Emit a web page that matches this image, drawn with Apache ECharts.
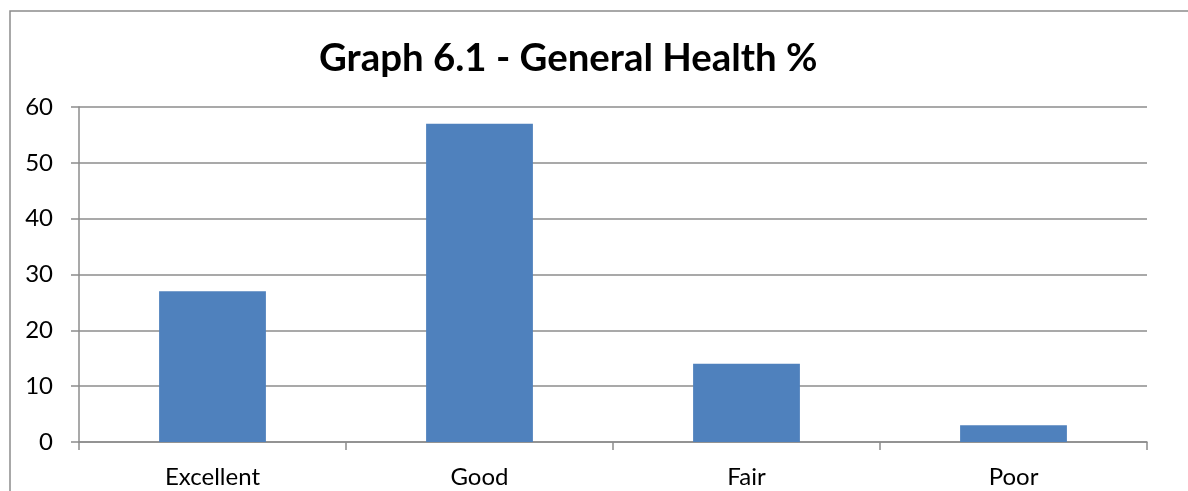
<!DOCTYPE html>
<html>
<head>
<meta charset="utf-8">
<script src="https://cdn.jsdelivr.net/npm/echarts@6/dist/echarts.min.js"></script>
<style>html,body{margin:0;padding:0;background:#fff;}#c{width:1188px;height:491px;}</style>
</head>
<body>
<div id="c"></div>
<script>
const titleText = 'Graph 6.1 - General Health %';
const categories = ['Excellent', 'Good', 'Fair', 'Poor'];
const values = [27, 57, 14, 3];
const yTicks = { min: 0, max: 60, interval: 10 };

const chart = echarts.init(document.getElementById('c'));
chart.setOption({
  animation: false,
  backgroundColor: '#fff',
  title: {
    text: titleText,
    left: 319,
    top: 40,
    padding: 0,
    textStyle: { fontFamily: 'Lato', fontWeight: 'bold', fontSize: 38.4, color: '#000' }
  },
  graphic: [{
    type: 'rect',
    shape: { x: 10, y: 11, width: 1400, height: 800 },
    style: { fill: 'none', stroke: '#8c8c8c', lineWidth: 1.5 },
    silent: true
  }],
  grid: { left: 79, right: 41, top: 107, bottom: 49 },
  xAxis: {
    type: 'category',
    data: categories,
    axisLine: { lineStyle: { color: '#8c8c8c', width: 1.5 } },
    axisTick: { show: true, length: 8, lineStyle: { color: '#8c8c8c', width: 1.5 } },
    axisLabel: { fontFamily: 'Lato', fontSize: 24, color: '#000', margin: 23 }
  },
  yAxis: {
    type: 'value',
    min: yTicks.min, max: yTicks.max, interval: yTicks.interval,
    axisLine: { show: true, lineStyle: { color: '#8c8c8c', width: 1.5 } },
    axisTick: { show: true, length: 8, lineStyle: { color: '#8c8c8c', width: 1.5 } },
    axisLabel: { fontFamily: 'Lato', fontSize: 24, color: '#000', margin: 26 },
    splitLine: { lineStyle: { color: '#8c8c8c', width: 1.5 } }
  },
  series: [{
    type: 'bar',
    data: values,
    barCategoryGap: '60%',
    itemStyle: { color: '#4F81BD' }
  }]
});
</script>
</body>
</html>
